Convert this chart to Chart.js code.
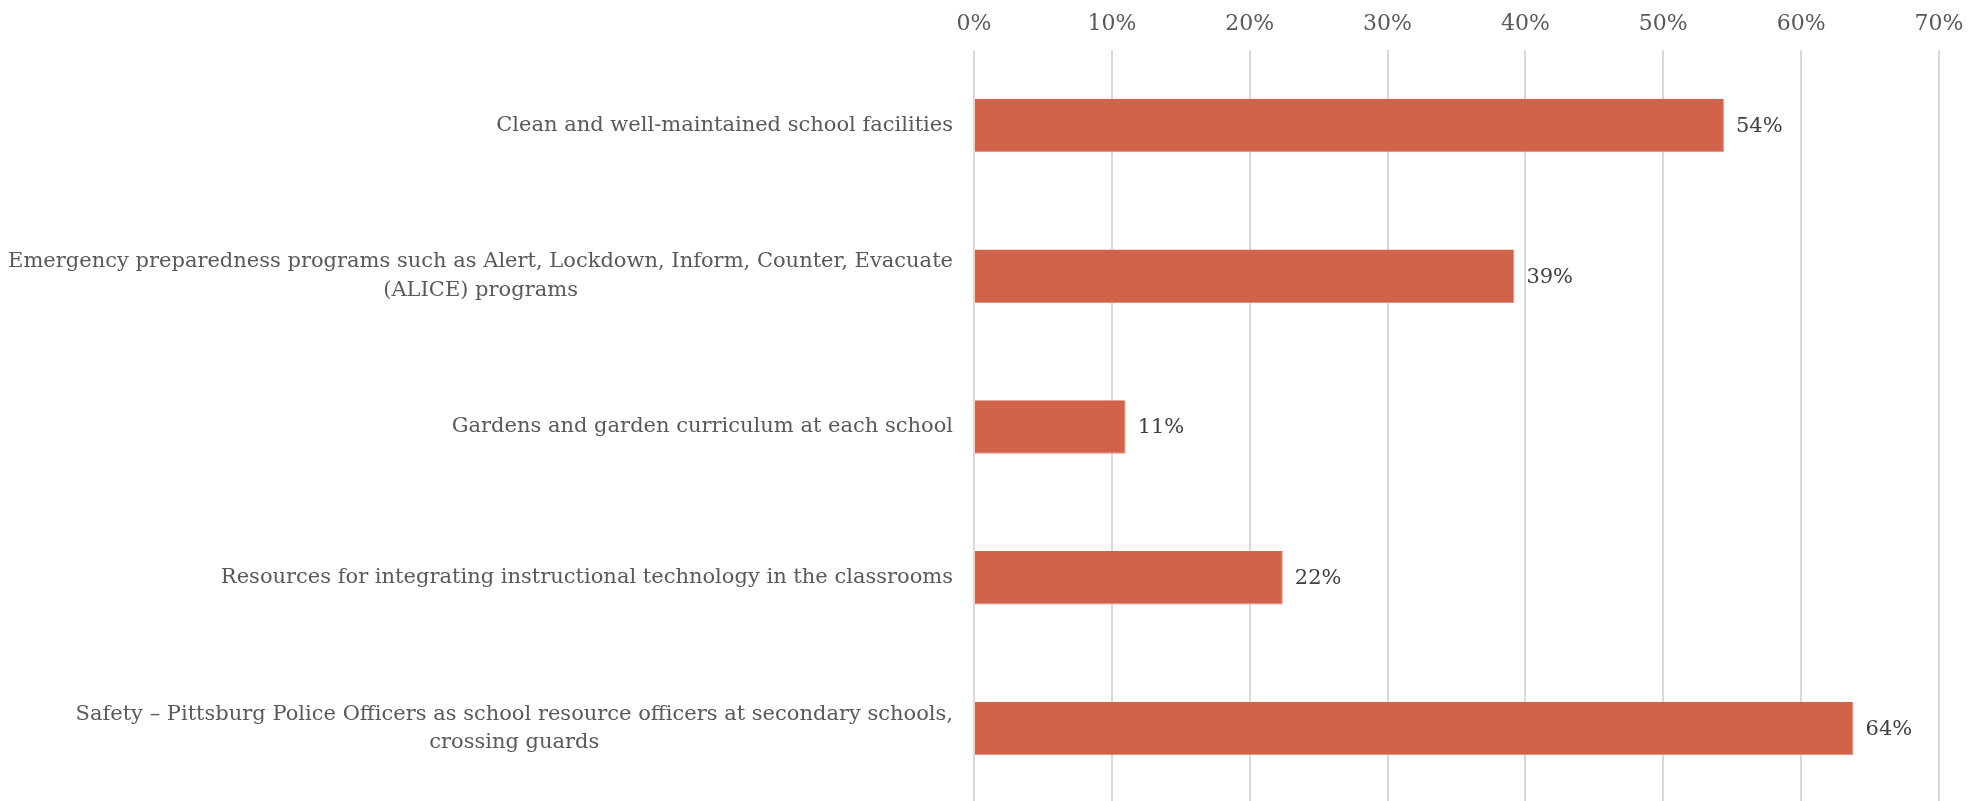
<!DOCTYPE html>
<html>
<head>
<meta charset="utf-8">
<script src="https://cdn.jsdelivr.net/npm/chart.js@4.4.0/dist/chart.umd.min.js"></script>
<style>
  html, body { margin: 0; padding: 0; background: #fff; overflow: hidden; }
  #wrap { width: 1982px; height: 805px; }
</style>
</head>
<body>
<div id="wrap"><canvas id="grafico" width="1982" height="805"></canvas></div>
<script>
// categorias (rotulos longos quebrados em linhas)
const categorias = [
    'Clean and well-maintained school facilities',
    ['Emergency preparedness programs such as Alert, Lockdown, Inform, Counter, Evacuate', '(ALICE) programs'],
    'Gardens and garden curriculum at each school',
    'Resources for integrating instructional technology in the classrooms',
    ['Safety \u2013 Pittsburg Police Officers as school resource officers at secondary schools,', 'crossing guards']
];
const valores = [54.4, 39.2, 11.0, 22.4, 63.8];
const ticksX = [0, 10, 20, 30, 40, 50, 60, 70];

const fonte = '"DejaVu Serif", "Liberation Serif", serif';

// escreve o valor no fim de cada barra
const rotulosBarras = {
    id: 'rotulosBarras',
    afterDatasetsDraw(chart) {
        const ctx = chart.ctx;
        const meta = chart.getDatasetMeta(0);
        ctx.save();
        ctx.font = '21px ' + fonte;
        ctx.fillStyle = '#404040';
        ctx.textAlign = 'left';
        ctx.textBaseline = 'middle';
        meta.data.forEach(function (barra, i) {
            ctx.fillText(Math.round(valores[i]) + '%', barra.x + 12, barra.y + 1);
        });
        ctx.restore();
    }
};

// rotulos das categorias: bloco alinhado a direita, linhas centradas (como no Excel)
const rotulosCategorias = {
    id: 'rotulosCategorias',
    afterDraw(chart) {
        const ctx = chart.ctx;
        const escala = chart.scales.y;
        const alturaLinha = 28.8;
        const direita = chart.chartArea.left - 21;
        ctx.save();
        ctx.font = '21px ' + fonte;
        ctx.fillStyle = '#595959';
        ctx.textAlign = 'center';
        ctx.textBaseline = 'middle';
        chart.data.labels.forEach(function (rotulo, i) {
            const linhas = Array.isArray(rotulo) ? rotulo : [rotulo];
            const largura = Math.max.apply(null, linhas.map(l => ctx.measureText(l).width));
            const cx = direita - largura / 2;
            const y0 = escala.getPixelForTick(i) - (linhas.length - 1) * alturaLinha / 2;
            linhas.forEach(function (l, j) {
                ctx.fillText(l, cx, y0 + j * alturaLinha);
            });
        });
        ctx.restore();
    }
};

let grafico = new Chart(document.getElementById('grafico').getContext('2d'), {
    type: 'bar',
    data: {
        labels: categorias,
        datasets: [{
            data: valores,
            backgroundColor: '#D1634A',
            borderColor: '#E28F7C',
            borderWidth: { top: 0, bottom: 1, left: 0, right: 1 },
            borderSkipped: false,
            barPercentage: 0.355,
            categoryPercentage: 1
        }]
    },
    options: {
        indexAxis: 'y',
        responsive: false,
        devicePixelRatio: 1,
        animation: false,
        layout: { padding: { top: 0, right: 43, bottom: 1, left: 0 } },
        plugins: {
            legend: { display: false },
            tooltip: { enabled: false }
        },
        scales: {
            x: {
                position: 'top',
                min: 0,
                max: 70,
                afterBuildTicks(scale) {
                    scale.ticks = ticksX.map(v => ({ value: v }));
                },
                afterFit(scale) { scale.height = 50; },
                ticks: {
                    callback: v => v + '%',
                    color: '#595959',
                    font: { family: fonte, size: 22 },
                    padding: 13,
                    maxRotation: 0
                },
                grid: { color: '#D9D9D9', lineWidth: 2, drawTicks: false },
                border: { display: false }
            },
            y: {
                afterFit(scale) {
                    scale.width = 974;
                    scale.paddingTop = 0;
                    scale.paddingBottom = 0;
                },
                ticks: { display: false },
                grid: { display: false },
                border: { display: false }
            }
        }
    },
    plugins: [rotulosBarras, rotulosCategorias]
});
</script>
</body>
</html>
